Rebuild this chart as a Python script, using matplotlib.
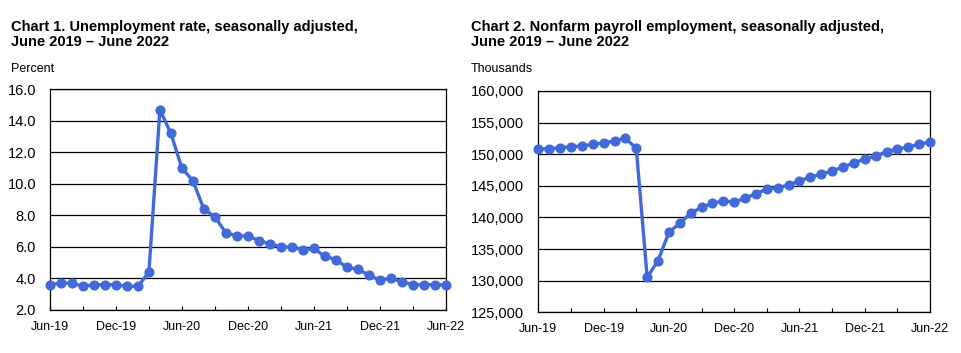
import matplotlib
matplotlib.use("Agg")
import matplotlib.pyplot as plt

plt.rcParams['font.family'] = ['Liberation Sans', 'DejaVu Sans']

months = ["Jun-19", "Jul-19", "Aug-19", "Sep-19", "Oct-19", "Nov-19", "Dec-19",
          "Jan-20", "Feb-20", "Mar-20", "Apr-20", "May-20", "Jun-20", "Jul-20",
          "Aug-20", "Sep-20", "Oct-20", "Nov-20", "Dec-20", "Jan-21", "Feb-21",
          "Mar-21", "Apr-21", "May-21", "Jun-21", "Jul-21", "Aug-21", "Sep-21",
          "Oct-21", "Nov-21", "Dec-21", "Jan-22", "Feb-22", "Mar-22", "Apr-22",
          "May-22", "Jun-22"]

# unemployment rate, percent
unemployment = [3.6, 3.7, 3.7, 3.5, 3.6, 3.6, 3.6, 3.5, 3.5, 4.4, 14.7, 13.2,
                11.0, 10.2, 8.4, 7.9, 6.9, 6.7, 6.7, 6.4, 6.2, 6.0, 6.0, 5.8,
                5.9, 5.4, 5.2, 4.7, 4.6, 4.2, 3.9, 4.0, 3.8, 3.6, 3.6, 3.6, 3.6]

# nonfarm payroll employment, thousands
payroll = [150800, 150850, 151040, 151200, 151300, 151570, 151780, 152090,
           152520, 150940, 130540, 133160, 137650, 139080, 140660, 141600,
           142240, 142600, 142450, 143030, 143760, 144450, 144710, 145130,
           145770, 146400, 146820, 147350, 147980, 148610, 149250, 149670,
           150410, 150830, 151140, 151570, 151930]

label_every = 6
tick_every = 3

line_color = '#4169D9'

fig = plt.figure(figsize=(9.61, 3.53), dpi=100)

ax1 = fig.add_axes([0.052, 0.122, 0.4118, 0.625])
ax2 = fig.add_axes([0.5602, 0.1153, 0.4076, 0.627])


def style_axis(ax, x, y, yticks, ylabels):
    ax.plot(x, y, color=line_color, linewidth=2.4, marker='o', markersize=6.3,
            zorder=3, clip_on=False)
    ax.set_xlim(0, len(x) - 1)
    ax.set_ylim(yticks[0], yticks[-1])
    ax.set_yticks(yticks)
    ax.set_yticklabels(ylabels, fontsize=10.5)
    ax.tick_params(axis='y', length=0, pad=10)
    ax.set_xticks(x[::tick_every], minor=True)
    ax.set_xticks(x[::label_every])
    ax.set_xticklabels(months[::label_every], fontsize=9)
    ax.tick_params(axis='x', which='both', direction='in', length=3,
                   width=0.8, pad=8)
    ax.grid(axis='y', color='black', linewidth=0.9)
    ax.set_axisbelow(True)
    for s in ax.spines.values():
        s.set_linewidth(0.9)
        s.set_color('black')


x = list(range(len(months)))

ticks1 = [2, 4, 6, 8, 10, 12, 14, 16]
style_axis(ax1, x, unemployment, ticks1, [f"{t:.1f}" for t in ticks1])

ticks2 = list(range(125000, 160001, 5000))
style_axis(ax2, x, payroll, ticks2, [f"{t:,}" for t in ticks2])

fig.text(0.011, 0.86, "Chart 1. Unemployment rate, seasonally adjusted,\nJune 2019 \u2013 June 2022",
         fontsize=10.5, fontweight='bold', va='bottom', linespacing=1.15)
fig.text(0.011, 0.787, "Percent", fontsize=9, va='bottom')

fig.text(0.49, 0.86, "Chart 2. Nonfarm payroll employment, seasonally adjusted,\nJune 2019 \u2013 June 2022",
         fontsize=10.5, fontweight='bold', va='bottom', linespacing=1.15)
fig.text(0.49, 0.787, "Thousands", fontsize=9, va='bottom')

fig.savefig("out.png", dpi=100)
